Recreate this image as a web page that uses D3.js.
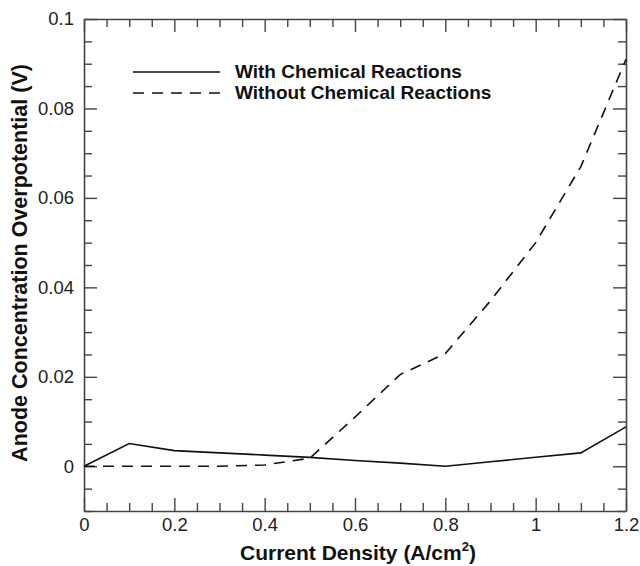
<!DOCTYPE html>
<html>
<head>
<meta charset="utf-8">
<script src="https://cdn.jsdelivr.net/npm/d3@7"></script>
<style>
  html, body { margin: 0; padding: 0; background: #fff; }
  svg { display: block; font-family: "Liberation Sans", Arial, Helvetica, sans-serif; }
</style>
</head>
<body>
<svg id="chart" width="640" height="566"></svg>
<script>
// Current density (A/cm^2) sample points
const currentDensity = [0, 0.1, 0.2, 0.3, 0.4, 0.5, 0.6, 0.7, 0.8, 0.9, 1.0, 1.1, 1.2];
// Anode concentration overpotential (V)
const withReactions    = [0, 0.0051, 0.0035, 0.003, 0.0025, 0.002, 0.0013, 0.0007, 0, 0.001, 0.002, 0.003, 0.0088];
const withoutReactions = [0, 0, 0, 0, 0.0003, 0.0018, 0.011, 0.0205, 0.0252, 0.037, 0.05, 0.067, 0.091];

const xMajorTicks = [0, 0.2, 0.4, 0.6, 0.8, 1, 1.2];
const yMajorTicks = [0, 0.02, 0.04, 0.06, 0.08, 0.1];
const seriesNames = ["With Chemical Reactions", "Without Chemical Reactions"];

const svg = d3.select("#chart");
const margin = { left: 84, top: 19, right: 14, bottom: 55 };
const W = 640, H = 566;

const x = d3.scaleLinear().domain([0, 1.2]).range([margin.left, W - margin.right]);
const y = d3.scaleLinear().domain([-0.01, 0.1]).range([H - margin.bottom, margin.top]);

const xMinor = d3.range(0, 1.2001, 0.05).filter(v => !xMajorTicks.some(t => Math.abs(t - v) < 1e-6));
const yMinor = d3.range(-0.01, 0.1001, 0.005).filter(v => !yMajorTicks.some(t => Math.abs(t - v) < 1e-6));

const fmt = v => (Math.abs(v) < 1e-9 ? "0" : d3.format("~g")(+v.toFixed(3)));
const axisColor = "#444";
const majorLen = 13, minorLen = 8;

function styleAxis(g) {
  g.selectAll("path.domain").attr("stroke", axisColor).attr("stroke-width", 1.6);
  g.selectAll(".tick line").attr("stroke", axisColor).attr("stroke-width", 1.4);
  g.selectAll(".tick text").attr("fill", "#222").style("font-size", "18.5px").style("font-family", "Liberation Sans, Arial, sans-serif");
}

// Bottom axis (labelled) with inward ticks
const gB = svg.append("g").attr("transform", `translate(0,${y(-0.01)})`)
  .call(d3.axisBottom(x).tickValues(xMajorTicks).tickFormat(fmt).tickSizeInner(-majorLen).tickSizeOuter(0).tickPadding(7));
svg.append("g").attr("transform", `translate(0,${y(-0.01)})`)
  .call(d3.axisBottom(x).tickValues(xMinor).tickFormat("").tickSizeInner(-minorLen).tickSizeOuter(0)).call(g => g.select(".domain").remove()).call(styleAxis);
styleAxis(gB);

// Top axis, ticks only
const gT = svg.append("g").attr("transform", `translate(0,${y(0.1)})`)
  .call(d3.axisTop(x).tickValues(xMajorTicks).tickFormat("").tickSizeInner(-majorLen).tickSizeOuter(0));
svg.append("g").attr("transform", `translate(0,${y(0.1)})`)
  .call(d3.axisTop(x).tickValues(xMinor).tickFormat("").tickSizeInner(-minorLen).tickSizeOuter(0)).call(g => g.select(".domain").remove()).call(styleAxis);
styleAxis(gT);

// Left axis (labelled)
const gL = svg.append("g").attr("transform", `translate(${x(0)},0)`)
  .call(d3.axisLeft(y).tickValues(yMajorTicks).tickFormat(fmt).tickSizeInner(-majorLen).tickSizeOuter(0).tickPadding(10));
svg.append("g").attr("transform", `translate(${x(0)},0)`)
  .call(d3.axisLeft(y).tickValues(yMinor).tickFormat("").tickSizeInner(-minorLen).tickSizeOuter(0)).call(g => g.select(".domain").remove()).call(styleAxis);
styleAxis(gL);

// Right axis, ticks only
const gR = svg.append("g").attr("transform", `translate(${x(1.2)},0)`)
  .call(d3.axisRight(y).tickValues(yMajorTicks).tickFormat("").tickSizeInner(-majorLen).tickSizeOuter(0));
svg.append("g").attr("transform", `translate(${x(1.2)},0)`)
  .call(d3.axisRight(y).tickValues(yMinor).tickFormat("").tickSizeInner(-minorLen).tickSizeOuter(0)).call(g => g.select(".domain").remove()).call(styleAxis);
styleAxis(gR);

// Data lines
const line = d3.line().x(d => x(d[0])).y(d => y(d[1]));
const dashPattern = "11,8";
svg.append("path")
  .datum(currentDensity.map((c, i) => [c, withReactions[i]]))
  .attr("d", line).attr("fill", "none").attr("stroke", "#111").attr("stroke-width", 1.6);
svg.append("path")
  .datum(currentDensity.map((c, i) => [c, withoutReactions[i]]))
  .attr("d", line).attr("fill", "none").attr("stroke", "#111").attr("stroke-width", 1.6)
  .attr("stroke-dasharray", dashPattern);

// Legend
const legend = svg.append("g");
[[seriesNames[0], null, 72], [seriesNames[1], dashPattern, 93]].forEach(([name, dash, ly]) => {
  legend.append("line").attr("x1", 133).attr("x2", 220).attr("y1", ly).attr("y2", ly)
    .attr("stroke", "#111").attr("stroke-width", 1.6).attr("stroke-dasharray", dash);
  legend.append("text").attr("x", 235).attr("y", ly + 6).text(name)
    .style("font-size", "19px").style("font-weight", "bold").attr("fill", "#111");
});

// Axis titles
const xt = svg.append("text").attr("x", (x(0) + x(1.2)) / 2 + 3).attr("y", 560)
  .attr("text-anchor", "middle").style("font-size", "21px").style("font-weight", "bold").attr("fill", "#111");
xt.append("tspan").text("Current Density (A/cm");
xt.append("tspan").text("2").style("font-size", "13px").attr("dy", -9);
xt.append("tspan").text(")").attr("dy", 9);

svg.append("text").attr("transform", `translate(27,${(y(-0.01) + y(0.1)) / 2 - 2}) rotate(-90)`)
  .attr("text-anchor", "middle").style("font-size", "21.5px").style("font-weight", "bold").attr("fill", "#111")
  .text("Anode Concentration Overpotential (V)");
</script>
</body>
</html>
